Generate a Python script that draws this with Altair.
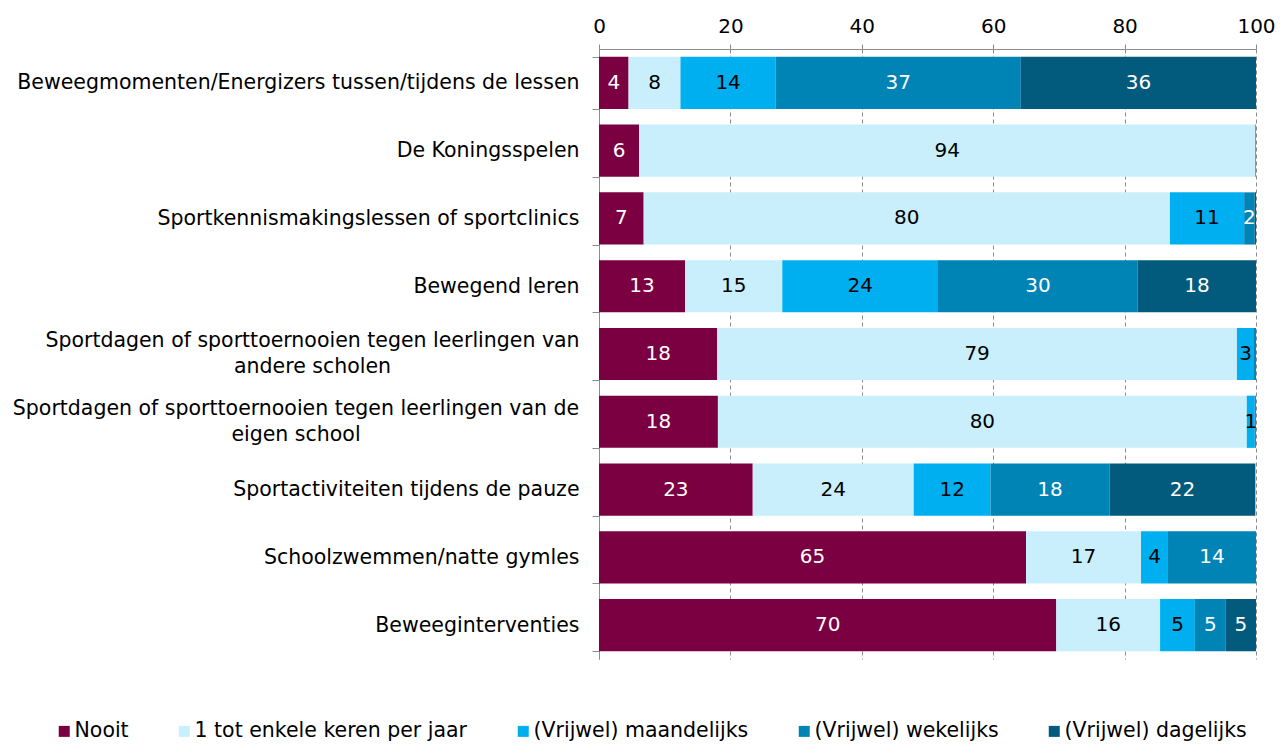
import altair as alt
import pandas as pd

categories = [
    "Beweegmomenten/Energizers tussen/tijdens de lessen",
    "De Koningsspelen",
    "Sportkennismakingslessen of sportclinics",
    "Bewegend leren",
    "Sportdagen of sporttoernooien tegen leerlingen van|andere scholen",
    "Sportdagen of sporttoernooien tegen leerlingen van de|eigen school",
    "Sportactiviteiten tijdens de pauze",
    "Schoolzwemmen/natte gymles",
    "Beweeginterventies",
]
series = [
    "Nooit",
    "1 tot enkele keren per jaar",
    "(Vrijwel) maandelijks",
    "(Vrijwel) wekelijks",
    "(Vrijwel) dagelijks",
]
colors = ["#7b0041", "#c9effd", "#00afef", "#0083b5", "#025a7c"]

# segment widths (percent)
nooit = [4.5, 6.1, 6.8, 13.1, 18.0, 18.1, 23.4, 65.0, 69.6]
jaarlijks = [7.9, 93.8, 80.1, 14.8, 79.1, 80.5, 24.5, 17.5, 15.8]
maandelijks = [14.5, 0.0, 11.3, 23.7, 2.6, 1.2, 11.7, 4.1, 5.3]
wekelijks = [37.3, 0.1, 1.6, 30.4, 0.3, 0.1, 18.1, 13.4, 4.7]
dagelijks = [35.8, 0.0, 0.2, 18.0, 0.0, 0.1, 22.2, 0.0, 4.6]

# printed data labels ("" = no label)
lab_nooit = ["4", "6", "7", "13", "18", "18", "23", "65", "70"]
lab_jaarlijks = ["8", "94", "80", "15", "79", "80", "24", "17", "16"]
lab_maandelijks = ["14", "", "11", "24", "3", "1", "12", "4", "5"]
lab_wekelijks = ["37", "", "2", "30", "", "", "18", "14", "5"]
lab_dagelijks = ["36", "", "", "18", "", "", "22", "", "5"]

values = [nooit, jaarlijks, maandelijks, wekelijks, dagelijks]
labels = [lab_nooit, lab_jaarlijks, lab_maandelijks, lab_wekelijks, lab_dagelijks]

rows = []
for si, s in enumerate(series):
    for ci, c in enumerate(categories):
        rows.append({
            "cat": c,
            "series": s,
            "sorder": si,
            "value": values[si][ci],
            "label": labels[si][ci],
        })
df = pd.DataFrame(rows)

FONT = "DejaVu Sans"

y_enc = alt.Y(
    "cat:N",
    sort=categories,
    title=None,
    scale=alt.Scale(paddingInner=0.23, paddingOuter=0.115),
    axis=alt.Axis(
        labelExpr="indexof(datum.label, '|') >= 0 ? '' : datum.label",
        tickBand="extent",
        tickSize=7,
        tickColor="#8c8c8c",
        domainColor="#8c8c8c",
        grid=False,
        labelFontSize=20.5,
        labelColor="#000000",
        labelLimit=700,
        labelPadding=13,
    ),
)

x_scale = alt.Scale(domain=[0, 100], nice=False)

bars = alt.Chart(df).mark_bar().encode(
    x=alt.X(
        "value:Q",
        stack="zero",
        scale=x_scale,
        title=None,
        axis=alt.Axis(
            orient="top",
            values=[0, 20, 40, 60, 80, 100],
            format="d",
            grid=True,
            gridDash=[4, 3],
            gridColor="#8c8c8c",
            gridWidth=1,
            tickSize=5,
            tickColor="#8c8c8c",
            domainColor="#8c8c8c",
            labelFontSize=20,
            labelColor="#000000",
            labelPadding=8,
            labelFlush=False,
        ),
    ),
    y=y_enc,
    order=alt.Order("sorder:Q", sort="ascending"),
    color=alt.Color(
        "series:N",
        sort=series,
        scale=alt.Scale(domain=series, range=colors),
        legend=alt.Legend(
            title=None,
            orient="none",
            legendX=-545,
            legendY=672,
            direction="horizontal",
            columns=5,
            columnPadding=45,
            symbolType="square",
            symbolSize=121,
            symbolStrokeWidth=0,
            labelFontSize=20.5,
            labelColor="#000000",
            labelOffset=0,
            labelLimit=600,
            padding=0,
        ),
    ),
)

text = (
    alt.Chart(df)
    .transform_window(
        x1="sum(value)",
        groupby=["cat"],
        sort=[alt.SortField("sorder", order="ascending")],
        frame=[None, 0],
    )
    .transform_calculate(mid="datum.x1 - datum.value / 2")
    .transform_filter("datum.label != ''")
    .mark_text(fontSize=20, font=FONT)
    .encode(
        x=alt.X("mid:Q", scale=x_scale),
        y=y_enc,
        text="label:N",
        color=alt.condition(
            alt.FieldOneOfPredicate(field="series", oneOf=["Nooit", "(Vrijwel) wekelijks", "(Vrijwel) dagelijks"]),
            alt.value("#ffffff"),
            alt.value("#000000"),
        ),
    )
)


def wrapped_label(key, xpix):
    # two-line category label, lines centred like the original
    return (
        alt.Chart(df)
        .transform_filter(alt.FieldEqualPredicate(field="series", equal=series[0]))
        .transform_filter(f"indexof(datum.cat, '{key}') >= 0")
        .transform_calculate(lines="split(datum.cat, '|')")
        .mark_text(
            font=FONT, fontSize=20.5, align="center", baseline="middle",
            lineHeight=26, dy=-13, color="#000000",
        )
        .encode(x=alt.value(xpix), y=y_enc, text="lines:N")
    )


lab5 = wrapped_label("andere", -286.5)
lab6 = wrapped_label("eigen", -303)

chart = (
    alt.layer(bars, text, lab5, lab6)
    .properties(
        width=657,
        height=610,
        autosize=alt.AutoSizeParams(type="none"),
        padding={"left": 591, "top": 41, "right": 22, "bottom": 84},
    )
    .configure(font=FONT)
    .configure_view(stroke=None)
    .configure_axis(labelFont=FONT)
    .configure_legend(labelFont=FONT)
)

chart.save("out.html", embed_options={"renderer": "svg", "actions": False})
